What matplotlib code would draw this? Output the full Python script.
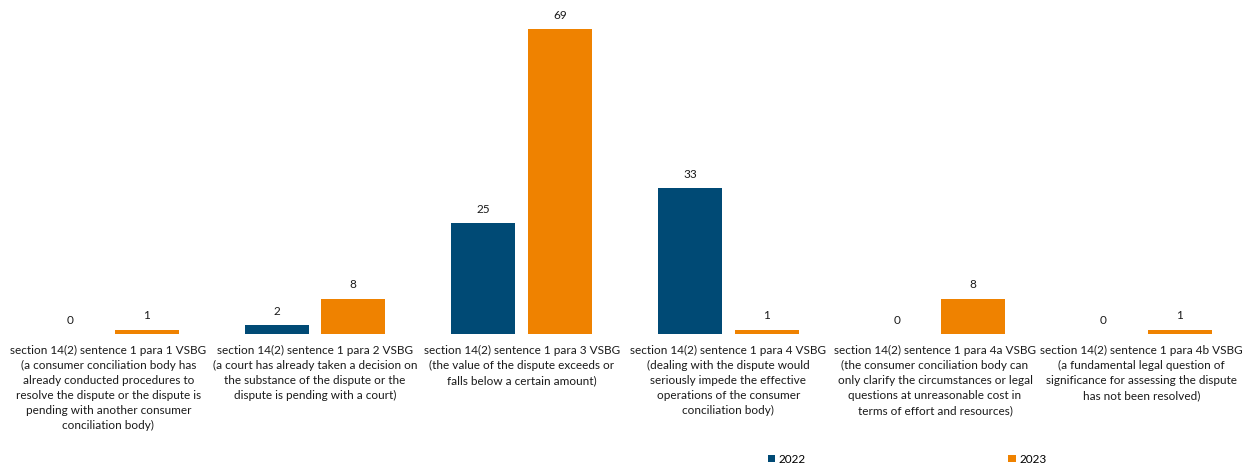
import matplotlib
matplotlib.use("Agg")
import matplotlib.pyplot as plt
import numpy as np

categories = [
    "section 14(2) sentence 1 para 1 VSBG\n(a consumer conciliation body has\nalready conducted procedures to\nresolve the dispute or the dispute is\npending with another consumer\nconciliation body)",
    "section 14(2) sentence 1 para 2 VSBG\n(a court has already taken a decision on\nthe substance of the dispute or the\ndispute is pending with a court)",
    "section 14(2) sentence 1 para 3 VSBG\n(the value of the dispute exceeds or\nfalls below a certain amount)",
    "section 14(2) sentence 1 para 4 VSBG\n(dealing with the dispute would\nseriously impede the effective\noperations of the consumer\nconciliation body)",
    "section 14(2) sentence 1 para 4a VSBG\n(the consumer conciliation body can\nonly clarify the circumstances or legal\nquestions at unreasonable cost in\nterms of effort and resources)",
    "section 14(2) sentence 1 para 4b VSBG\n(a fundamental legal question of\nsignificance for assessing the dispute\nhas not been resolved)",
]
values_2022 = [0, 2, 25, 33, 0, 0]
values_2023 = [1, 8, 69, 1, 8, 1]
series_labels = ["2022", "2023"]

plt.rcParams["font.family"] = ["Lato", "DejaVu Sans"]

W, H = 1250, 465
fig = plt.figure(figsize=(W / 100, H / 100), dpi=100)
ax = fig.add_axes([5 / W, 131 / H, 1240 / W, (334 - 10) / H])

x = np.arange(len(categories))
bw = 0.31
off = 0.185
c22 = "#004a75"
c23 = "#ef8200"
b1 = ax.bar(x - off, values_2022, bw, color=c22, label=series_labels[0])
b2 = ax.bar(x + off, values_2023, bw, color=c23, label=series_labels[1])

for bars, vals in ((b1, values_2022), (b2, values_2023)):
    for rect, v in zip(bars, vals):
        ax.annotate(str(v), (rect.get_x() + rect.get_width() / 2, v),
                    xytext=(0, 6), textcoords="offset points",
                    ha="center", va="bottom", fontsize=8.5, color="#1a1a1a")

ax.set_xlim(-0.5, len(categories) - 0.5)
ax.set_ylim(0, 73.3)
ax.set_xticks(x)
ax.set_xticklabels(categories, fontsize=8.5, color="#1a1a1a", linespacing=1.44)
ax.tick_params(axis="x", length=0, pad=8)
ax.set_yticks([])
for s in ax.spines.values():
    s.set_visible(False)

fig.legend(handles=[b1, b2], labels=series_labels, loc="center",
           bbox_to_anchor=(907 / W, 6 / H), ncol=2, frameon=False,
           fontsize=8.5, handlelength=0.6, handleheight=0.6,
           handletextpad=0.3, columnspacing=17.2, borderpad=0)

fig.savefig("out.png", dpi=100)
